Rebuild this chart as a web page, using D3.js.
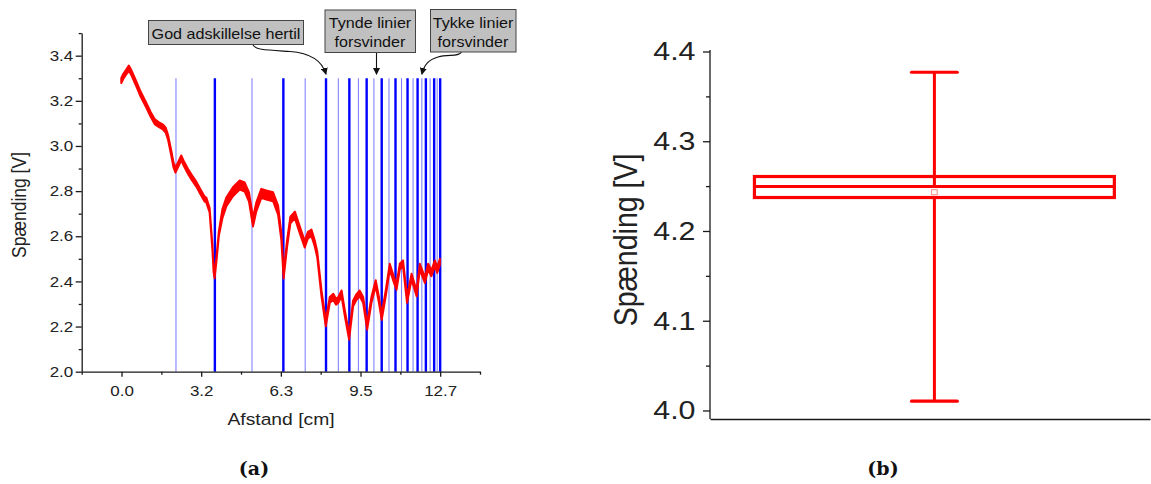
<!DOCTYPE html>
<html><head><meta charset="utf-8">
<script src="https://cdn.jsdelivr.net/npm/d3@7"></script>
<style>body{margin:0;background:#fff} svg{display:block}</style>
</head><body><svg id="c" width="1151" height="484"></svg>
<script>
// ---------------- DATA ----------------
// (a) measured voltage along the test strip
const distanceCm = [-0.01,0.08,0.20,0.29,0.40,0.59,0.76,0.99,1.16,1.32,1.48,1.65,1.76,1.85,1.98,2.07,2.15,2.25,2.38,2.47,2.64,2.79,2.98,3.15,3.31,3.38,3.51,3.62,3.67,3.71,3.78,3.88,4.02,4.18,4.44,4.71,4.91,5.08,5.24,5.37,5.57,5.77,6.04,6.24,6.37,6.46,6.60,6.73,6.91,7.10,7.30,7.43,7.57,7.70,7.80,7.97,8.14,8.30,8.44,8.55,8.64,8.77,8.90,9.07,9.23,9.36,9.49,9.63,9.79,9.96,10.13,10.26,10.37,10.53,10.69,10.86,10.96,11.09,11.22,11.38,11.56,11.76,11.89,12.09,12.22,12.35,12.49,12.58,12.69];
const voltage = [3.29,3.31,3.33,3.345,3.323,3.275,3.23,3.18,3.14,3.108,3.095,3.084,3.07,3.04,2.97,2.916,2.893,2.916,2.947,2.925,2.889,2.862,2.831,2.796,2.765,2.76,2.716,2.554,2.45,2.424,2.495,2.613,2.70,2.753,2.797,2.827,2.818,2.774,2.663,2.729,2.79,2.783,2.775,2.716,2.598,2.428,2.569,2.672,2.694,2.63,2.565,2.605,2.615,2.569,2.52,2.347,2.214,2.318,2.332,2.31,2.318,2.347,2.259,2.155,2.303,2.33,2.347,2.318,2.199,2.318,2.392,2.318,2.243,2.347,2.465,2.406,2.376,2.465,2.48,2.318,2.421,2.347,2.465,2.406,2.465,2.436,2.48,2.45,2.487];
// noise band half-width (V), constant from each start distance on
const bandStartCm = [-1, 3.4, 3.9, 6.3, 7.6];
const bandHalfV   = [0.011, 0.010, 0.020, 0.015, 0.013];
// positions of the printed lines (cm)
const thinLines  = [2.17,5.20,7.32,8.64,9.44,10.06,10.66,11.16,11.62,11.97,12.30,12.58];
const thickLines = [3.72,6.45,8.15,9.08,9.77,10.37,10.92,11.40,11.80,12.13,12.46,12.70];
const lineTopV = 3.3;
// axis ticks (a)
const xMajorTicks = [0, 3.175, 6.35, 9.525, 12.7];
const xTickLabels = ["0.0","3.2","6.3","9.5","12.7"];
const xMinorTicks = [-1.5875, 1.5875, 4.7625, 7.9375, 11.1125, 14.2875];
const yMajorTicksA = [2.0,2.2,2.4,2.6,2.8,3.0,3.2,3.4];
const yTickLabelsA = ["2.0","2.2","2.4","2.6","2.8","3.0","3.2","3.4"];
const yMinorTicksA = [2.1,2.3,2.5,2.7,2.9,3.1,3.3,3.5];
// annotations
const annotationTexts = [["God adskillelse hertil"],["Tynde linier","forsvinder"],["Tykke linier","forsvinder"]];
// (b) box plot statistics
const boxWhiskers = [4.0104, 4.3769];      // min, max
const boxQuartiles = [4.2373, 4.2496, 4.2607]; // q1, median, q3
const boxMean = 4.2432;
const yMajorTicksB = [4.0,4.1,4.2,4.3,4.4];
const yTickLabelsB = ["4.0","4.1","4.2","4.3","4.4"];
const yMinorTicksB = [4.05,4.15,4.25,4.35];
const captions = ["(a)","(b)"];

// ---------------- DRAW ----------------
const SX = 1.17;               // horizontal text stretch of the original figure
const FONT = '"Liberation Sans", Arial, sans-serif';
const AX = "#1a1a1a";
const svg = d3.select("#c");

function styleAxis(g){
  g.select(".domain").attr("stroke",AX).attr("stroke-width",1.3);
  g.selectAll(".tick line").attr("stroke",AX).attr("stroke-width",1.3);
}

// ===== (a) =====
const xL = d3.scaleLinear().domain([-1.5875, 14.2875]).range([81.7, 480]);
const yL = d3.scaleLinear().domain([2.0, 3.5]).range([371.7, 33.1]);
const gA = svg.append("g");

gA.selectAll("line.thin").data(thinLines).join("line").attr("class","thin")
  .attr("x1",d=>xL(d)).attr("x2",d=>xL(d)).attr("y1",yL(lineTopV)).attr("y2",yL(2.0))
  .attr("stroke","#7878ff").attr("stroke-width",1);
gA.selectAll("line.thick").data(thickLines).join("line").attr("class","thick")
  .attr("x1",d=>xL(d)).attr("x2",d=>xL(d)).attr("y1",yL(lineTopV)).attr("y2",yL(2.0))
  .attr("stroke","#0000ff").attr("stroke-width",2.4);

function halfAt(x){ let h = bandHalfV[0]; bandStartCm.forEach((s,i)=>{ if (x>=s) h = bandHalfV[i]; }); return h; }
const pts = distanceCm.map((x,i)=>({x, v:voltage[i], h:halfAt(x)}));
gA.append("path").datum(pts)
  .attr("d", d3.area().x(d=>xL(d.x)).y0(d=>yL(d.v-d.h)).y1(d=>yL(d.v+d.h)))
  .attr("fill","#ff0000").attr("stroke","#ff0000").attr("stroke-width",2).attr("stroke-linejoin","round");

// y axis (a)
const yAxA = gA.append("g").attr("transform",`translate(${xL.range()[0]},0)`)
  .call(d3.axisLeft(yL).tickValues(yMajorTicksA).tickSize(6).tickSizeOuter(0).tickFormat((d,i)=>yTickLabelsA[i]));
yAxA.call(styleAxis).attr("font-family",FONT).attr("font-size",14.5);
yAxA.selectAll(".tick text").attr("x",-8.5/SX).attr("transform",`scale(${SX},1)`).attr("fill","#222");
gA.append("g").attr("transform",`translate(${xL.range()[0]},0)`)
  .call(d3.axisLeft(yL).tickValues(yMinorTicksA).tickSize(3).tickFormat(""))
  .call(g=>g.select(".domain").remove()).call(styleAxis);

// x axis (a)
const xAxA = gA.append("g").attr("transform",`translate(0,${yL(2.0)})`)
  .call(d3.axisBottom(xL).tickValues(xMajorTicks).tickSize(5).tickSizeOuter(0).tickFormat((d,i)=>xTickLabels[i]));
xAxA.call(styleAxis).attr("font-family",FONT).attr("font-size",14.5);
xAxA.selectAll(".tick text").attr("y",24).attr("dy",0).attr("transform",`scale(${SX},1)`).attr("fill","#222");
gA.append("g").attr("transform",`translate(0,${yL(2.0)})`)
  .call(d3.axisBottom(xL).tickValues(xMinorTicks).tickSize(3).tickFormat(""))
  .call(g=>g.select(".domain").remove()).call(styleAxis);

// axis titles (a)
gA.append("text").text("Afstand [cm]").attr("font-family",FONT).attr("font-size",16.5).attr("fill","#222")
  .attr("text-anchor","middle").attr("transform",`translate(281,425) scale(${SX},1)`);
gA.append("text").text("Spænding [V]").attr("font-family",FONT).attr("font-size",17.5).attr("fill","#222")
  .attr("text-anchor","middle").attr("transform",`translate(26,205) scale(${SX},1) rotate(-90)`);

// annotations
const defs = svg.append("defs");
defs.append("marker").attr("id","ah").attr("viewBox","0 0 10 10").attr("refX",9).attr("refY",5)
  .attr("markerWidth",7).attr("markerHeight",7).attr("orient","auto-start-reverse").attr("markerUnits","userSpaceOnUse")
  .append("path").attr("d","M0,0 L10,5 L0,10 Z").attr("fill","#111");

const annBoxes = [
  {x0:148.5,x1:303.5,y0:20.5,y1:44.5, cx:226, base:[39],
   arrow:()=>`M253,45 C256,50 265,50 290,51.5 C310,53 322,60 ${xL(thickLines[2])},${yL(lineTopV)-4}`},
  {x0:325,x1:415.5,y0:10,y1:52.5, cx:370, base:[28,47],
   arrow:()=>`M376.5,52.5 L376.5,${yL(lineTopV)-4}`},
  {x0:430.5,x1:516,y0:9.5,y1:52, cx:473, base:[27.5,46.5],
   arrow:()=>`M461.5,52 C459,57 448,54 438,57 C428,60 424,65 ${xL(thinLines[9])},${yL(lineTopV)-4}`}
];
annBoxes.forEach((b,i)=>{
  const g = svg.append("g");
  g.append("path").attr("d",b.arrow()).attr("fill","none").attr("stroke","#111").attr("stroke-width",1.1).attr("marker-end","url(#ah)");
  g.append("rect").attr("x",b.x0).attr("y",b.y0).attr("width",b.x1-b.x0).attr("height",b.y1-b.y0)
    .attr("fill","#c0c0c0").attr("stroke","#444").attr("stroke-width",1);
  annotationTexts[i].forEach((t,j)=>{
    g.append("text").text(t).attr("font-family",FONT).attr("font-size",13.8).attr("fill","#111")
      .attr("text-anchor","middle").attr("transform",`translate(${b.cx},${b.base[j]}) scale(${SX},1)`);
  });
});

// ===== (b) =====
const xR = d3.scaleLinear().domain([0,1]).range([710,1150]);
const yR = d3.scaleLinear().domain([3.9905, 4.4]).range([419, 51.5]);
const gB = svg.append("g");
const boxCenter = 0.51, boxHalf = 0.409, capHalf = 0.052;
const RED = "#ff0000";
// whiskers
gB.append("line").attr("x1",xR(boxCenter)).attr("x2",xR(boxCenter)).attr("y1",yR(boxWhiskers[1])).attr("y2",yR(boxQuartiles[1]))
  .attr("stroke",RED).attr("stroke-width",3);
gB.append("line").attr("x1",xR(boxCenter)).attr("x2",xR(boxCenter)).attr("y1",yR(boxQuartiles[0])).attr("y2",yR(boxWhiskers[0]))
  .attr("stroke",RED).attr("stroke-width",3);
gB.selectAll("line.cap").data(boxWhiskers).join("line").attr("class","cap")
  .attr("x1",xR(boxCenter-capHalf)).attr("x2",xR(boxCenter+capHalf)).attr("y1",d=>yR(d)).attr("y2",d=>yR(d))
  .attr("stroke",RED).attr("stroke-width",3.2).attr("stroke-linecap","round");
// box
gB.append("rect").attr("x",xR(boxCenter-boxHalf)).attr("width",xR(boxCenter+boxHalf)-xR(boxCenter-boxHalf))
  .attr("y",yR(boxQuartiles[2])).attr("height",yR(boxQuartiles[0])-yR(boxQuartiles[2]))
  .attr("fill","none").attr("stroke",RED).attr("stroke-width",3.2);
gB.append("line").attr("x1",xR(boxCenter-boxHalf)).attr("x2",xR(boxCenter+boxHalf))
  .attr("y1",yR(boxQuartiles[1])).attr("y2",yR(boxQuartiles[1])).attr("stroke",RED).attr("stroke-width",3);
// mean
gB.append("rect").attr("x",xR(boxCenter)-2.8).attr("y",yR(boxMean)-2.5).attr("width",5.6).attr("height",5)
  .attr("fill","#fff").attr("stroke","#ff8a8a").attr("stroke-width",1);

// axes (b)
const yAxB = gB.append("g").attr("transform",`translate(${xR.range()[0]},0)`)
  .call(d3.axisLeft(yR).tickValues(yMajorTicksB).tickSize(7).tickSizeOuter(0).tickFormat((d,i)=>yTickLabelsB[i]));
yAxB.call(styleAxis).attr("font-family",FONT).attr("font-size",26);
yAxB.select(".domain").attr("d",`M0,${yR(4.4)-1.5}V${yR.range()[0]}`);
yAxB.selectAll(".tick text").attr("x",-14.5/SX).attr("transform",`scale(${SX},1)`).attr("fill","#222");
gB.append("g").attr("transform",`translate(${xR.range()[0]},0)`)
  .call(d3.axisLeft(yR).tickValues(yMinorTicksB).tickSize(4).tickFormat(""))
  .call(g=>g.select(".domain").remove()).call(styleAxis);
gB.append("g").attr("transform",`translate(0,${yR.range()[0]})`)
  .call(d3.axisBottom(xR).tickValues([]).tickSizeOuter(0)).call(styleAxis);
gB.append("text").text("Spænding [V]").attr("font-family",FONT).attr("font-size",28.5).attr("fill","#222")
  .attr("text-anchor","middle").attr("transform",`translate(637,240) scale(${SX},1) rotate(-90)`);

// captions
svg.selectAll("text.cap").data(captions).join("text").attr("class","cap").text(d=>d)
  .attr("x",(d,i)=>[254,883][i]).attr("y",475).attr("text-anchor","middle")
  .attr("font-family",'"DejaVu Serif", serif').attr("font-weight","bold").attr("font-size",19).attr("fill","#111");
</script>
</body></html>
